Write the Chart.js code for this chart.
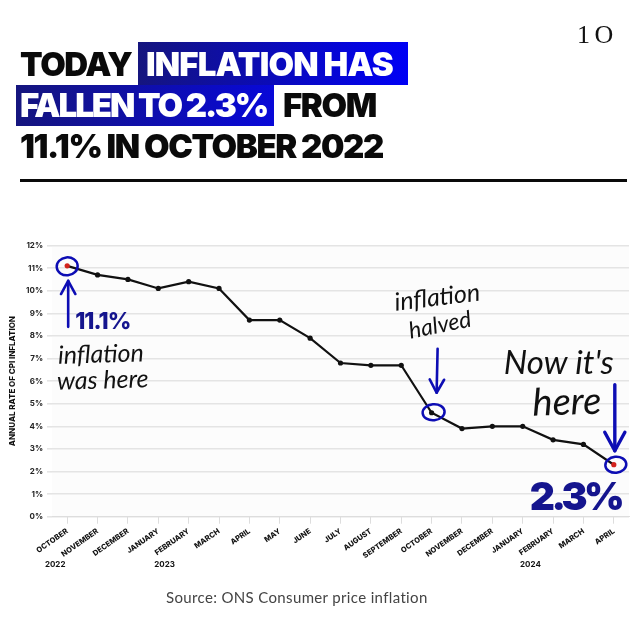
<!DOCTYPE html>
<html><head><meta charset="utf-8">
<script src="https://cdn.jsdelivr.net/npm/chart.js@4"></script>
<style>
html,body{margin:0;padding:0;background:#fff;width:640px;height:640px;overflow:hidden}
#wrap{position:relative;width:640px;height:640px}
canvas{position:absolute;left:0;top:0}
.h{position:absolute;font-family:Inter,sans-serif;font-weight:900;font-size:33px;line-height:40px;letter-spacing:-1.4px;color:#0a0a0a;white-space:nowrap}
.w{color:#fff}
.box{position:absolute;background:linear-gradient(90deg,#15157e,#0000f5)}
#rule{position:absolute;left:20px;top:179px;width:607px;height:3px;background:#0a0a0a}
#src{position:absolute;left:166px;top:588px;font:15px Lato,sans-serif;color:#444;letter-spacing:.35px;white-space:nowrap}
#pg{position:absolute;left:577px;top:20px;font:26px "Liberation Serif",serif;color:#111;letter-spacing:1px;word-spacing:-4px;white-space:nowrap}
</style></head><body>
<div id="wrap">
<canvas id="c" width="640" height="640"></canvas>
<div class="box" style="left:138px;top:42px;width:270px;height:43px"></div>
<div class="box" style="left:16px;top:85px;width:258px;height:41px;background:linear-gradient(90deg,#15157e,#0808d8)"></div>
<div class="h" style="left:20px;top:44px">TODAY</div>
<div class="h w" style="left:146px;top:44px;letter-spacing:-.85px">INFLATION HAS</div>
<div class="h w" style="left:20px;top:85px;letter-spacing:-2px">FALLEN TO 2.3%</div>
<div class="h" style="left:283px;top:85px">FROM</div>
<div class="h" style="left:20px;top:126px">11.1% IN OCTOBER 2022</div>
<div id="rule"></div>
<div id="pg">1 O</div>
<div id="src">Source: ONS Consumer price inflation</div>
</div>
<script>
const months=["OCTOBER","NOVEMBER","DECEMBER","JANUARY","FEBRUARY","MARCH","APRIL","MAY","JUNE","JULY","AUGUST","SEPTEMBER","OCTOBER","NOVEMBER","DECEMBER","JANUARY","FEBRUARY","MARCH","APRIL"];
const cpi=[11.1,10.7,10.5,10.1,10.4,10.1,8.7,8.7,7.9,6.8,6.7,6.7,4.6,3.9,4.0,4.0,3.4,3.2,2.3];
const years=[["2022",0],["2023",3.6],["2024",15.65]];
const BLUE="#0d0db4";
const first=0,mid=12,last=cpi.length-1;
function arrow(c,x1,y1,x2,y2,w,hl){
  c.save();c.strokeStyle=BLUE;c.lineWidth=w;c.lineCap="round";c.lineJoin="round";
  c.beginPath();c.moveTo(x1,y1);c.lineTo(x2,y2);c.stroke();
  const a=Math.atan2(y2-y1,x2-x1);
  c.beginPath();
  c.moveTo(x2-hl*Math.cos(a-0.5),y2-hl*Math.sin(a-0.5));
  c.lineTo(x2,y2);
  c.lineTo(x2-hl*Math.cos(a+0.5),y2-hl*Math.sin(a+0.5));
  c.stroke();c.restore();
}
function ring(c,x,y,rx,ry){
  c.save();c.strokeStyle=BLUE;c.lineWidth=2.5;c.beginPath();
  c.ellipse(x,y,rx,ry,-0.1,0,Math.PI*2);c.stroke();c.restore();
}
function hand(c,t,x,y,size,rot,weight){
  c.save();c.translate(x,y);c.rotate(rot);c.fillStyle="#111";
  c.font=`italic ${weight} ${size}px Lato,sans-serif`;c.textAlign="left";c.textBaseline="alphabetic";
  c.fillText(t,0,0);c.restore();
}
function big(c,t,x,y,size,font,sp){
  c.save();c.fillStyle="#15158e";c.font=font+` ${size}px Inter,sans-serif`;c.textAlign="left";c.textBaseline="alphabetic";
  c.letterSpacing=sp+"px";c.fillText(t,x,y);c.restore();
}
const notes={id:"notes",
  beforeDraw(ch){
    const {ctx:c,chartArea:a}=ch;
    c.save();c.fillStyle="#fcfcfc";c.fillRect(a.left,a.top,a.right-a.left,a.bottom-a.top);c.restore();
  },
  afterDraw(ch){
    const c=ch.ctx,X=ch.scales.x,Y=ch.scales.y;
    const px=i=>X.getPixelForValue(i),py=i=>Y.getPixelForValue(cpi[i]);
    const x0=px(first),y0=py(first),x1=px(mid),y1=py(mid),x2=px(last),y2=py(last);
    ring(c,x0,y0+0.5,10.5,9);
    ring(c,x1+2,y1-0.5,11,8);
    ring(c,x2+2,y2,10.5,8);
    arrow(c,x0+1,y0+61,x0+1,y0+15,2.6,15);
    arrow(c,x1+6,y1-64,x1+5,y1-20,2.6,15);
    arrow(c,x2+1,y2-80,x2+1,y2-14,3.4,21);
    big(c,"11.1%",x0+8,y0+63,23,"800",-1);
    big(c,"2.3%",x2-84,y2+45,39,"900",-3.6);
    hand(c,"inflation",x0-9,y0+98,25,-0.03,400);
    hand(c,"was here",x0-10,y0+124,25,-0.03,400);
    hand(c,"inflation",x1-36,y1-102,25,-0.12,400);
    hand(c,"halved",x1-21,y1-74,23,-0.2,400);
    hand(c,"Now it's",x2-110,y2-91,33,0,400);
    hand(c,"here",x2-81,y2-49,38,-0.03,400);
    c.save();c.fillStyle="#111";c.font="bold 8px Inter,sans-serif";c.textAlign="center";
    years.forEach(([t,i])=>c.fillText(t,px(i)-12,567));
    c.restore();
  }
};
new Chart(document.getElementById("c"),{
  type:"line",
  data:{labels:months,datasets:[{data:cpi,borderColor:"#111",borderWidth:2.2,tension:0,
    pointRadius:2.6,pointBorderWidth:0,
    pointBackgroundColor:cpi.map((v,i)=>(i===first||i===last)?"#d3231c":"#111")}]},
  options:{responsive:false,animation:false,devicePixelRatio:1,
    layout:{padding:{top:245.5,right:11,left:0,bottom:0}},
    plugins:{legend:{display:false},tooltip:{enabled:false}},
    scales:{
      y:{min:0,max:12,afterFit(s){s.width=52},
        ticks:{stepSize:1,padding:4,color:"#222",font:{family:"Inter",size:8,weight:"700"},callback:v=>v+"%"},
        border:{display:false},
        grid:{color:"#e4e4e4",lineWidth:1.6,tickLength:5},
        title:{display:true,text:"ANNUAL RATE OF CPI INFLATION",color:"#111",padding:{top:8,bottom:0},font:{family:"Inter",size:8,weight:"800"}}},
      x:{offset:true,afterFit(s){s.height=123.3},
        ticks:{autoSkip:false,minRotation:35,maxRotation:35,padding:3,color:"#111",font:{family:"Inter",size:7.5,weight:"800"}},
        border:{color:"#ddd"},
        grid:{display:true,offset:false,drawOnChartArea:false,color:"#ddd",tickLength:7}}
    }},
  plugins:[notes]
});
</script>
</body></html>
